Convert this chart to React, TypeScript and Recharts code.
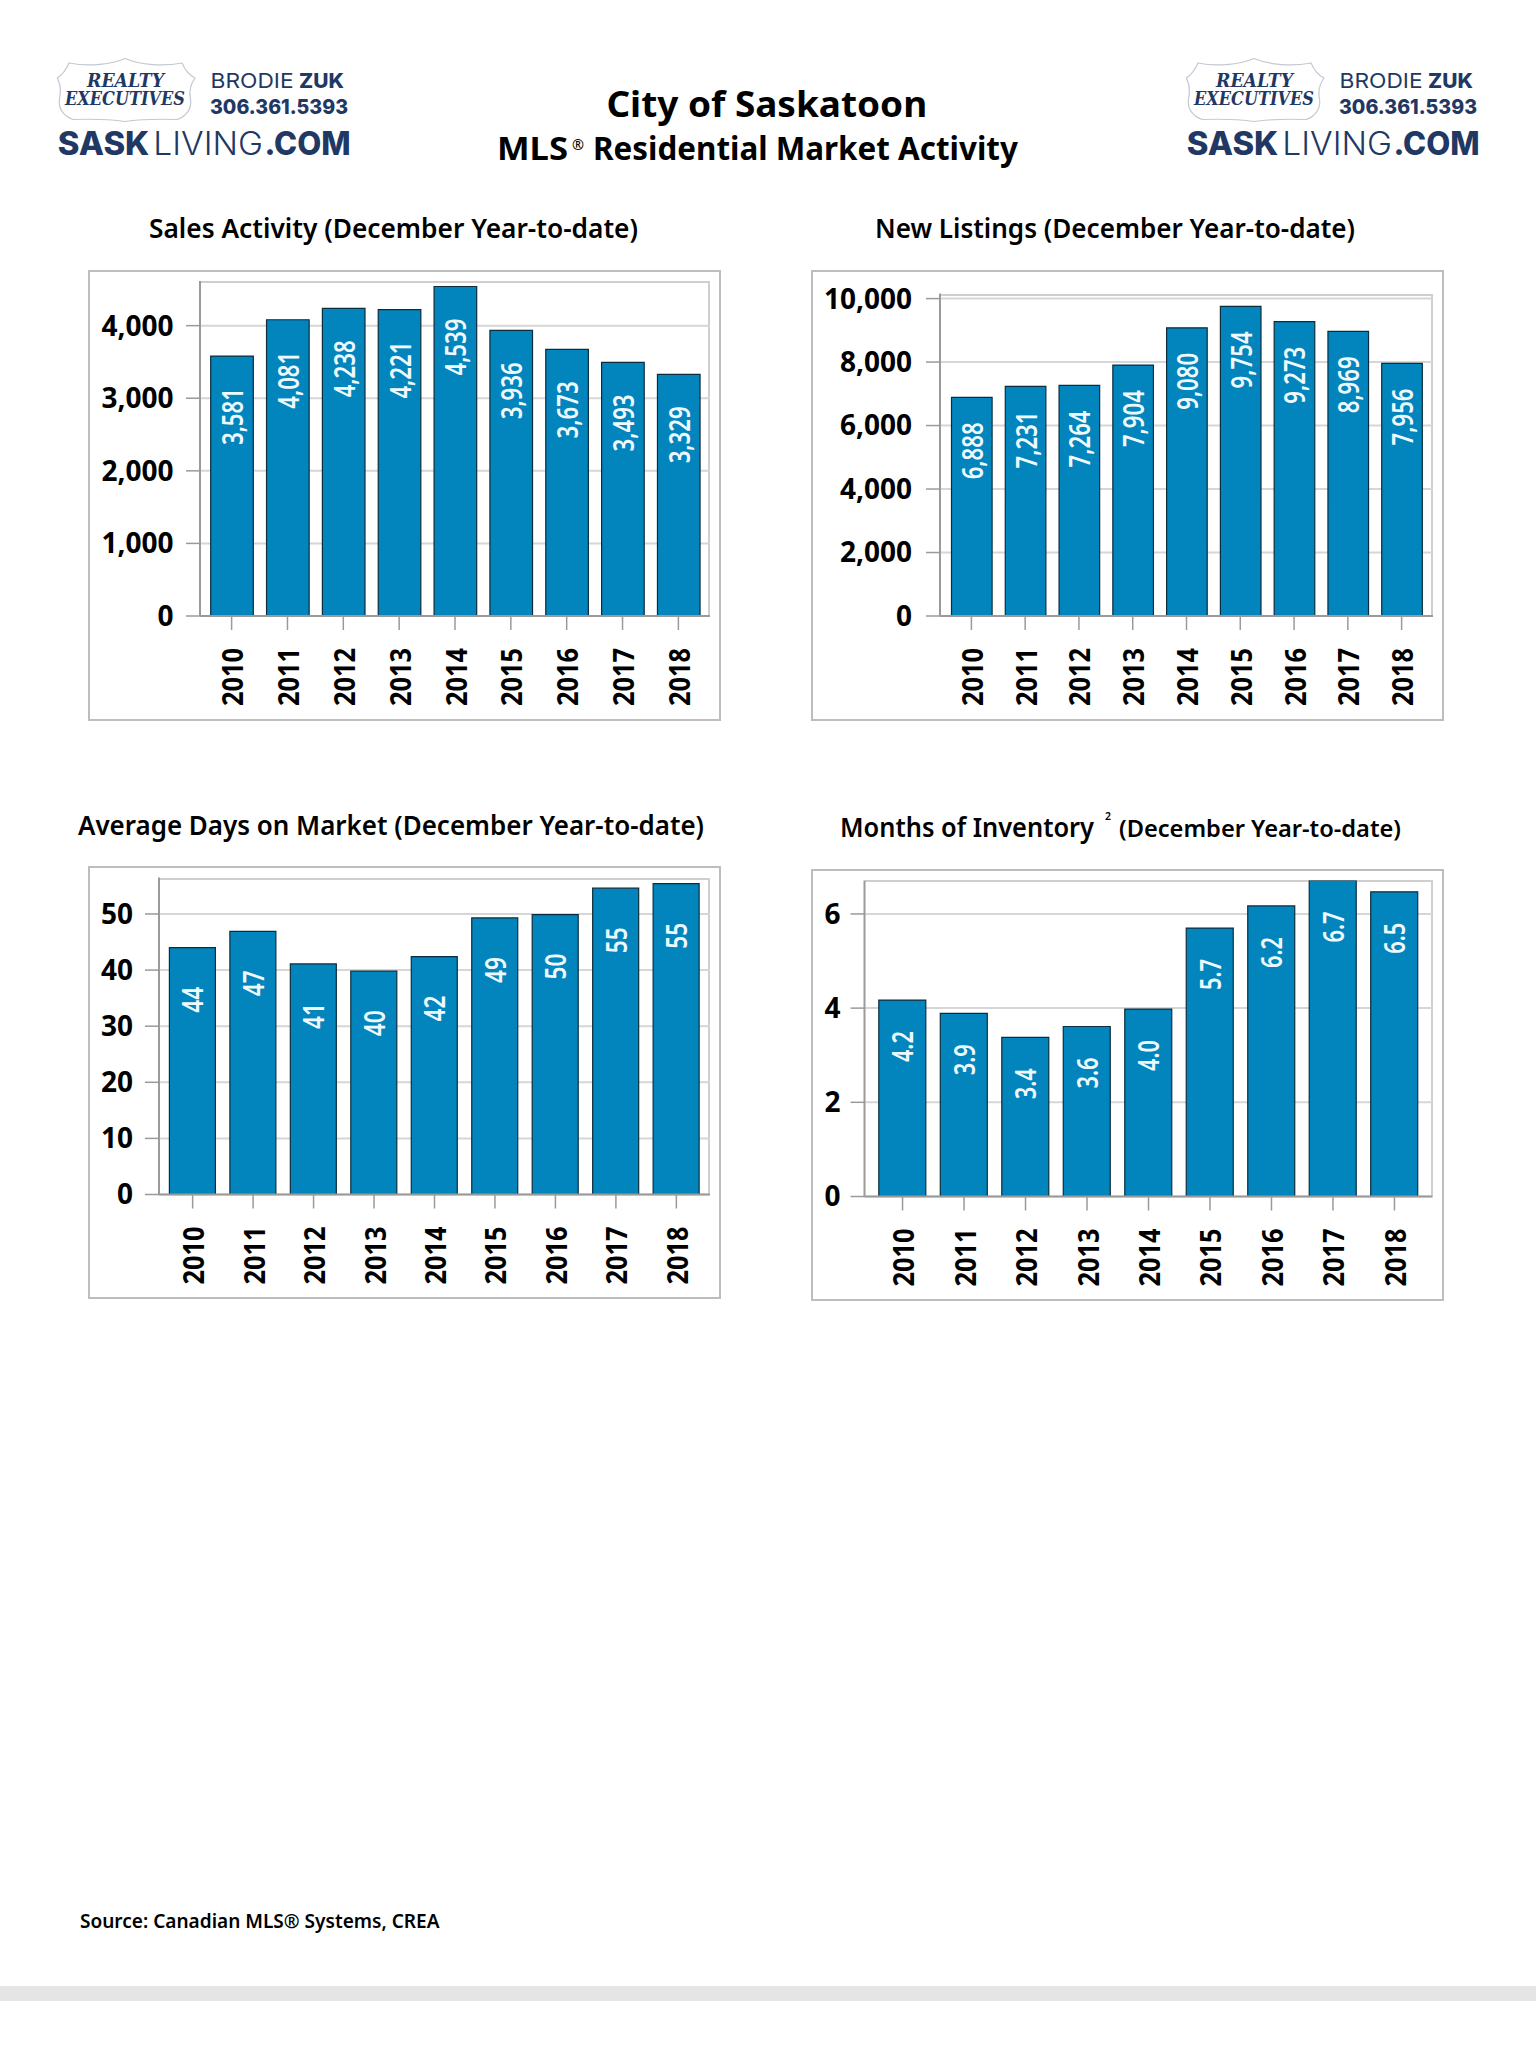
import { BarChart, Bar, XAxis, YAxis, CartesianGrid, LabelList } from "recharts";

const years = ["2010", "2011", "2012", "2013", "2014", "2015", "2016", "2017", "2018"];

const salesValues = [3581, 4081, 4238, 4221, 4539, 3936, 3673, 3493, 3329];
const listingValues = [6888, 7231, 7264, 7904, 9080, 9754, 9273, 8969, 7956];
const daysValues = [44, 46.9, 41.1, 39.8, 42.4, 49.3, 49.9, 54.6, 55.4];
const inventoryValues = [4.17, 3.89, 3.38, 3.61, 3.98, 5.7, 6.17, 6.71, 6.47];

const salesTicks = [0, 1000, 2000, 3000, 4000];
const listingTicks = [0, 2000, 4000, 6000, 8000, 10000];
const daysTicks = [0, 10, 20, 30, 40, 50];
const inventoryTicks = [0, 2, 4, 6];

const FONT = "'Noto Sans', sans-serif";
const NAVY = "#1f3864";

const commas = (v: number) => v.toLocaleString("en-US");
const whole = (v: number) => String(Math.round(v));
const oneDecimal = (v: number) => v.toFixed(1);

function Panel({ frame, plot, values, ticks, max, pad, barSize, labelGap, labelLength, labelFormat, tickFormat, tickGap }: any) {
  const data = years.map((year, i) => ({ year, value: values[i] }));

  const renderLabel = ({ x, y, width, value }: any) => {
    const cx = x + width / 2;
    const cy = y + labelGap;
    return (
      <text
        transform={`rotate(-90 ${cx} ${cy})`}
        x={cx}
        y={cy}
        textAnchor="end"
        dominantBaseline="central"
        fontFamily={FONT}
        fontSize={28}
        fontWeight={600}
        fill="#eef9fd"
        textLength={labelLength}
        lengthAdjust="spacingAndGlyphs"
      >
        {labelFormat(value)}
      </text>
    );
  };

  const renderYear = ({ x, y, payload }: any) => (
    <text
      transform={`rotate(-90 ${x} ${y})`}
      x={x}
      y={y}
      textAnchor="end"
      dominantBaseline="central"
      fontFamily={FONT}
      fontSize={29}
      fontWeight={700}
      fill="#000"
      textLength={58}
      lengthAdjust="spacingAndGlyphs"
    >
      {payload.value}
    </text>
  );

  return (
    <>
      <div
        style={{
          position: "absolute",
          left: frame.x,
          top: frame.y,
          width: frame.w,
          height: frame.h,
          boxSizing: "border-box",
          border: "2px solid #bdbdbd",
        }}
      />
      <div
        style={{
          position: "absolute",
          left: plot.x,
          top: plot.y,
          width: plot.w,
          height: plot.h,
          boxSizing: "border-box",
          borderTop: "2px solid #cfcfcf",
          borderRight: "2px solid #cfcfcf",
        }}
      />
      <div style={{ position: "absolute", left: frame.x, top: frame.y }}>
        <BarChart
          width={frame.w}
          height={frame.h}
          data={data}
          margin={{
            top: plot.y - frame.y,
            right: frame.x + frame.w - plot.x - plot.w,
            bottom: 0,
            left: 0,
          }}
        >
          <CartesianGrid vertical={false} stroke="#d6d6d6" strokeWidth={2} syncWithTicks />
          <XAxis
            dataKey="year"
            interval={0}
            height={frame.y + frame.h - plot.y - plot.h}
            padding={{ left: pad, right: pad }}
            axisLine={{ stroke: "#9a9a9a", strokeWidth: 2 }}
            tickLine={{ stroke: "#9a9a9a", strokeWidth: 1.5 }}
            tickSize={14}
            tickMargin={18}
            tick={renderYear}
          />
          <YAxis
            width={plot.x - frame.x}
            domain={[0, max]}
            ticks={ticks}
            allowDataOverflow
            axisLine={{ stroke: "#9a9a9a", strokeWidth: 2 }}
            tickLine={{ stroke: "#9a9a9a", strokeWidth: 1.5 }}
            tickSize={14}
            tickMargin={tickGap}
            tickFormatter={tickFormat}
            tick={{ fontFamily: FONT, fontSize: 28, fontWeight: 700, fill: "#000" }}
          />
          <Bar dataKey="value" fill="#0284bd" stroke="#0b2d3d" strokeWidth={1.2} barSize={barSize} isAnimationActive={false}>
            <LabelList dataKey="value" content={renderLabel} />
          </Bar>
        </BarChart>
      </div>
    </>
  );
}

function Txt({ x, y, w, size, weight = 700, fill = "#000", family = FONT, italic = false, children }: any) {
  return (
    <text
      x={x}
      y={y}
      fontFamily={family}
      fontSize={size}
      fontWeight={weight}
      fontStyle={italic ? "italic" : "normal"}
      fill={fill}
      textLength={w}
      lengthAdjust="spacingAndGlyphs"
    >
      {children}
    </text>
  );
}

function Logo({ dx }: { dx: number }) {
  return (
    <g transform={`translate(${dx} 0)`}>
      <path
        d="M125 58.5 C112 64 90 67 69 63 C66 70 62 75 57.3 78 C61 85 61 92 59.5 99 C58 108 63 116 73.5 119.5 C90 119 108 119 125 121.5 C142 119 160 119 177 119.5 C187 116 192 108 190.5 99 C189 92 190 85 195 78 C189 75 185 70 182 63 C160 67 138 64 125 58.5 Z"
        fill="#fff"
        stroke="#c3c8d2"
        strokeWidth={1.2}
      />
      <Txt x={87} y={87} w={77} size={18} weight={700} italic fill={NAVY} family="'DejaVu Serif', serif">REALTY</Txt>
      <Txt x={65} y={105} w={120} size={18} weight={700} italic fill={NAVY} family="'DejaVu Serif', serif">EXECUTIVES</Txt>
      <Txt x={210.6} y={88.3} w={83} size={20.5} weight={400} fill={NAVY} family="Inter, sans-serif">BRODIE</Txt>
      <Txt x={299} y={88.3} w={45} size={20.5} weight={800} fill={NAVY} family="Inter, sans-serif">ZUK</Txt>
      <Txt x={210} y={113.6} w={138} size={20.5} weight={800} fill={NAVY} family="Inter, sans-serif">306.361.5393</Txt>
      <Txt x={57.8} y={155} w={91.6} size={32} weight={800} fill={NAVY} family="Inter, sans-serif">SASK</Txt>
      <Txt x={153.3} y={155} w={109.7} size={32} weight={300} fill={NAVY} family="Inter, sans-serif">LIVING</Txt>
      <Txt x={264.5} y={155} w={86.2} size={32} weight={800} fill={NAVY} family="Inter, sans-serif">.COM</Txt>
    </g>
  );
}

export default function App() {
  return (
    <div style={{ position: "absolute", left: 0, top: 0, width: 1536, height: 2048, background: "#fff", overflow: "hidden" }}>
      <svg width={1536} height={2048} style={{ position: "absolute", left: 0, top: 0 }}>
        <Logo dx={0} />
        <Logo dx={1129} />

        <Txt x={606.4} y={117} w={320.8} size={36.5} weight={700}>City of Saskatoon</Txt>
        <Txt x={497} y={160} w={71} size={32} weight={700}>MLS</Txt>
        <Txt x={572} y={150} w={12} size={15} weight={400}>®</Txt>
        <Txt x={593} y={160} w={424.8} size={32} weight={700}>Residential Market Activity</Txt>

        <Txt x={149} y={238} w={489} size={27} weight={600}>Sales Activity (December Year-to-date)</Txt>
        <Txt x={875} y={238} w={480} size={27} weight={600}>New Listings (December Year-to-date)</Txt>
        <Txt x={78} y={835} w={626} size={27} weight={600}>Average Days on Market (December Year-to-date)</Txt>
        <Txt x={840} y={837} w={254} size={27} weight={600}>Months of Inventory</Txt>
        <Txt x={1105} y={820} w={6} size={10} weight={600}>2</Txt>
        <Txt x={1119} y={837} w={282} size={24} weight={600}>(December Year-to-date)</Txt>

        <Txt x={80} y={1928} w={359.5} size={19.5} weight={600}>Source: Canadian MLS® Systems, CREA</Txt>
      </svg>

      <Panel
        frame={{ x: 88, y: 270, w: 633, h: 451 }}
        plot={{ x: 200, y: 281, w: 510, h: 335 }}
        values={salesValues}
        ticks={salesTicks}
        max={4615}
        pad={3.7}
        barSize={42.6}
        labelGap={32}
        labelLength={57}
        labelFormat={commas}
        tickFormat={commas}
        tickGap={12.5}
      />
      <Panel
        frame={{ x: 811, y: 270, w: 633, h: 451 }}
        plot={{ x: 940, y: 293.5, w: 493, h: 322.5 }}
        values={listingValues}
        ticks={listingTicks}
        max={10160}
        pad={4.5}
        barSize={40.6}
        labelGap={25}
        labelLength={57}
        labelFormat={commas}
        tickFormat={commas}
        tickGap={14}
      />
      <Panel
        frame={{ x: 88, y: 866, w: 633, h: 433 }}
        plot={{ x: 159, y: 877.5, w: 551, h: 317 }}
        values={daysValues}
        ticks={daysTicks}
        max={56.5}
        pad={3.4}
        barSize={46}
        labelGap={39}
        labelLength={26}
        labelFormat={whole}
        tickFormat={commas}
        tickGap={12}
      />
      <Panel
        frame={{ x: 811, y: 868.5, w: 633, h: 432 }}
        plot={{ x: 864.5, y: 880, w: 568, h: 316 }}
        values={inventoryValues}
        ticks={inventoryTicks}
        max={6.71}
        pad={7.3}
        barSize={47}
        labelGap={31}
        labelLength={31}
        labelFormat={oneDecimal}
        tickFormat={commas}
        tickGap={10}
      />

      <div style={{ position: "absolute", left: 0, top: 1986, width: 1536, height: 15, background: "#e5e5e5" }} />
    </div>
  );
}
